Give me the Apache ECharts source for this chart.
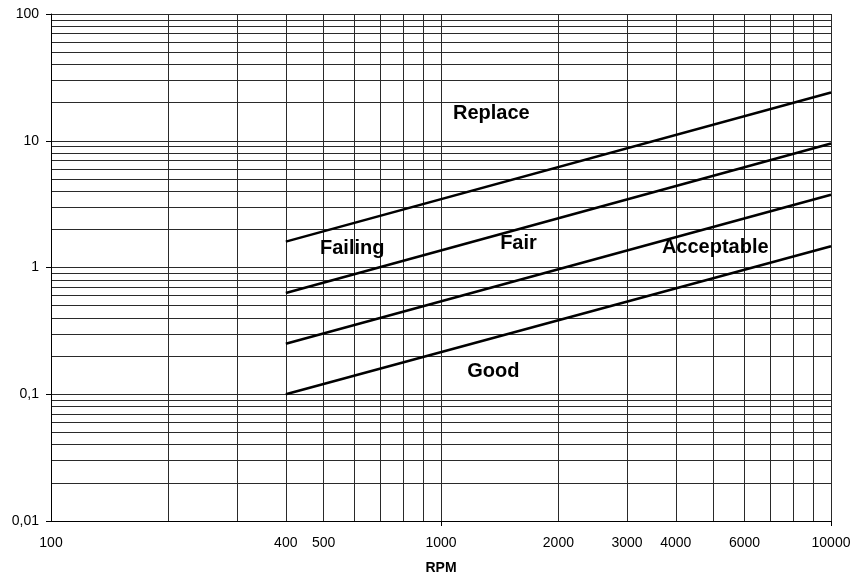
<!DOCTYPE html>
<html>
<head>
<meta charset="utf-8">
<script src="https://cdn.jsdelivr.net/npm/echarts@6/dist/echarts.min.js"></script>
<style>
html, body { margin: 0; padding: 0; background: #fff; }
#chart { width: 854px; height: 575px; }
</style>
</head>
<body>
<div id="chart"></div>
<script>
// boundary lines, two points each (log-log straight lines)
var rpm = [400, 10000];
var replaceLine = [1.6, 24];
var failingLine = [0.63, 9.5];
var fairLine = [0.25, 3.75];
var goodLine = [0.1, 1.47];

// axis labels, ticks and grid values
var xLabels = [100, 400, 500, 1000, 2000, 3000, 4000, 6000, 10000];
var xTicks = [1000, 10000];
var xGrid = [100, 200, 300, 400, 500, 600, 700, 800, 900,
	1000, 2000, 3000, 4000, 5000, 6000, 7000, 8000, 9000, 10000];
var yTicks = [0.01, 0.1, 1, 10, 100];
var yGrid = [0.01, 0.02, 0.03, 0.04, 0.05, 0.06, 0.07, 0.08, 0.09,
	0.1, 0.2, 0.3, 0.4, 0.5, 0.6, 0.7, 0.8, 0.9,
	1, 2, 3, 4, 5, 6, 7, 8, 9,
	10, 20, 30, 40, 50, 60, 70, 80, 90, 100];

// zone names and where they sit
var zoneNames = ['Replace', 'Failing', 'Fair', 'Acceptable', 'Good'];
var zoneRpm = [1346, 592, 1580, 5050, 1362];
var zoneVal = [16.3, 1.40, 1.54, 1.45, 0.150];

function pairs(ys) {
	return rpm.map(function(x, i) { return [x, ys[i]]; });
}

var font = "'Liberation Sans', Arial, sans-serif";
var gridColor = '#2a2a2a';

var myChart = echarts.init(document.getElementById('chart'));
var option = {
	animation: false,
	grid: {
		left: 51,
		right: 23,
		top: 14,
		bottom: 54,
		outerBoundsMode: 'none'
	},
	xAxis: [{
		type: 'log',
		logBase: 10,
		min: 100,
		max: 10000,
		name: 'RPM',
		nameLocation: 'middle',
		nameGap: 40,
		nameTextStyle: { fontFamily: font, fontSize: 14, fontWeight: 'bold', color: '#000' },
		axisLine: { lineStyle: { color: '#000', width: 1 } },
		axisTick: { show: false, customValues: xGrid },
		axisLabel: {
			customValues: xLabels,
			margin: 15,
			fontFamily: font,
			fontSize: 14,
			color: '#000',
			formatter: function(v) { return String(v); }
		},
		splitLine: { show: true, lineStyle: { color: gridColor, width: 1 } }
	}, {
		// only the major tick marks
		type: 'log',
		logBase: 10,
		min: 100,
		max: 10000,
		position: 'bottom',
		offset: 0,
		axisLine: { show: false },
		axisTick: { show: true, length: 5, customValues: xTicks, lineStyle: { color: '#000' } },
		axisLabel: { show: false },
		splitLine: { show: false }
	}],
	yAxis: [{
		type: 'log',
		logBase: 10,
		min: 0.01,
		max: 100,
		axisLine: { show: true, lineStyle: { color: '#000', width: 1 } },
		axisTick: { show: false, customValues: yGrid },
		axisLabel: {
			margin: 12,
			fontFamily: font,
			fontSize: 14,
			color: '#000',
			formatter: function(v) { return String(v).replace('.', ','); }
		},
		splitLine: { show: true, lineStyle: { color: gridColor, width: 1 } }
	}, {
		type: 'log',
		logBase: 10,
		min: 0.01,
		max: 100,
		position: 'left',
		offset: 0,
		axisLine: { show: false },
		axisTick: { show: true, length: 5, customValues: yTicks, lineStyle: { color: '#000' } },
		axisLabel: { show: false },
		splitLine: { show: false }
	}],
	series: [
		{ type: 'line', data: pairs(replaceLine), showSymbol: false, lineStyle: { color: '#000', width: 2.5 } },
		{ type: 'line', data: pairs(failingLine), showSymbol: false, lineStyle: { color: '#000', width: 2.5 } },
		{ type: 'line', data: pairs(fairLine), showSymbol: false, lineStyle: { color: '#000', width: 2.5 } },
		{ type: 'line', data: pairs(goodLine), showSymbol: false, lineStyle: { color: '#000', width: 2.5 } },
		{
			type: 'scatter',
			symbolSize: 0,
			itemStyle: { opacity: 1 },
			data: zoneNames.map(function(n, i) { return { name: n, value: [zoneRpm[i], zoneVal[i]] }; }),
			label: {
				show: true,
				position: 'inside',
				formatter: '{b}',
				fontFamily: font,
				fontSize: 20,
				fontWeight: 'bold',
				color: '#000',
				opacity: 1
			}
		}
	]
};
myChart.setOption(option);
</script>
</body>
</html>
